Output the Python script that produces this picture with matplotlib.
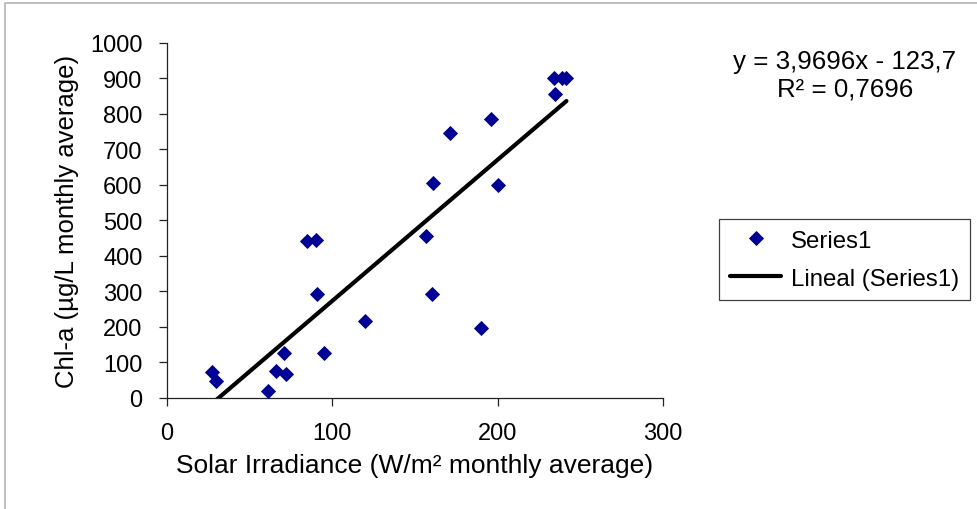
import numpy as np
import matplotlib.pyplot as plt
from matplotlib.lines import Line2D

plt.rcParams['font.family'] = ['Liberation Sans', 'DejaVu Sans']

# monthly averages
irradiance = [27.5, 29.9, 60.8, 65.7, 70.7, 71.9, 84.4, 89.9, 90.9, 94.7, 119.8,
              156.8, 161.0, 160.0, 170.9, 189.9, 196.0, 200.0, 233.9, 234.9, 239.0, 241.6]
chla = [72, 49, 21, 77, 126, 67, 442, 444, 292, 126, 216,
        456, 604, 292, 745, 197, 784, 600, 899, 855, 899, 899]

# linear trendline as given by the chart label
slope = 3.9696
intercept = -123.7
eq_text = 'y = 3,9696x - 123,7\nR² = 0,7696'

x_ticks = [0, 100, 200, 300]
y_ticks = list(range(0, 1001, 100))

fig = plt.figure(figsize=(9.78, 5.10), dpi=100)
ax = fig.add_axes([167/978, 1 - 399/510, (663 - 167)/978, (399 - 43.5)/510])

# light grey chart frame (only top and left edges are inside the picture)
fx, fy = 4.5/978, 1 - 3.5/510
fig.lines.append(Line2D([fx, fx, 1.0], [0.0, fy, fy], transform=fig.transFigure,
                        color='#b4b4b4', linewidth=1.2))

ax.plot(irradiance, chla, linestyle='none', marker='D', markersize=7.6,
        color='#000099', markeredgecolor='#000080', markeredgewidth=0.6,
        label='Series1', zorder=3)

xs = np.array([min(irradiance), max(irradiance)])
ax.plot(xs, slope * xs + intercept, color='black', linewidth=3,
        solid_capstyle='round', label='Lineal (Series1)', zorder=4)

ax.set_xlim(0, 300)
ax.set_ylim(0, 1000)
ax.set_xticks(x_ticks)
ax.set_yticks(y_ticks)
ax.tick_params(direction='out', length=5.5, width=0.9, color='#222222',
               labelsize=17, pad=12)
for s in ['top', 'right']:
    ax.spines[s].set_visible(False)
for s in ['left', 'bottom']:
    ax.spines[s].set_color('#222222')
    ax.spines[s].set_linewidth(0.9)

ax.set_xlabel('Solar Irradiance (W/m² monthly average)', fontsize=19, labelpad=6)
ax.set_ylabel('Chl-a (µg/L monthly average)', fontsize=18.5, labelpad=8)

fig.text(845/978, 1 - 76/510, eq_text, ha='center', va='center',
         multialignment='center', fontsize=18.6)

leg = ax.legend(loc='upper left', bbox_to_anchor=(719/978, 1 - 220/510),
                bbox_transform=fig.transFigure, fontsize=17.3, frameon=True,
                fancybox=False, framealpha=1, edgecolor='#404040',
                borderaxespad=0, borderpad=0.45, handlelength=2.15,
                handletextpad=0.38, labelspacing=0.66)
leg.get_frame().set_linewidth(0.9)

fig.savefig('out.png', dpi=100)
